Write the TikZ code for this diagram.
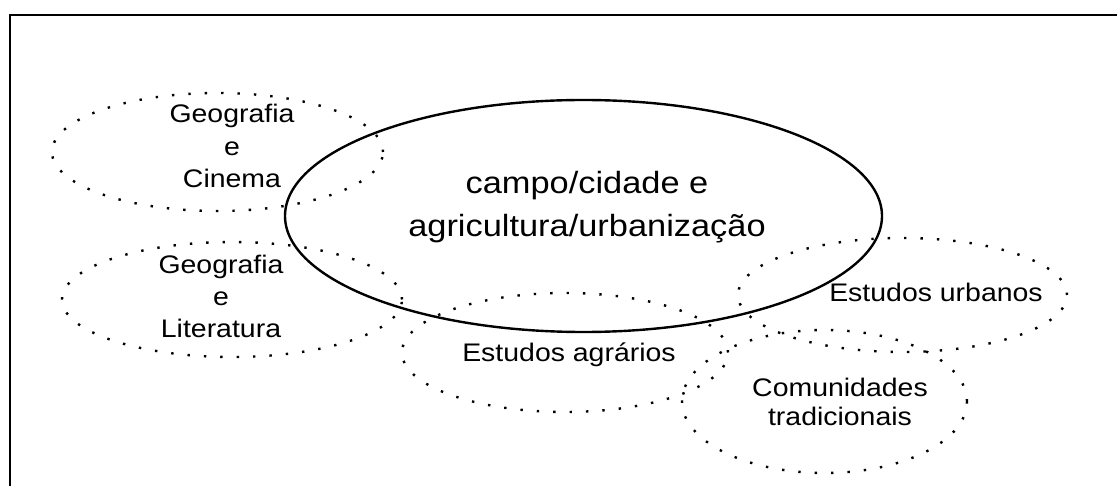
\documentclass[tikz,border=0pt]{standalone}
\usepackage{fontspec}
\setmainfont[FakeStretch=1.12]{Liberation Sans}
\usetikzlibrary{shapes.geometric}

\begin{document}
\begin{tikzpicture}
	[x=1pt, y=-1pt,
	theme/.style={draw, ellipse, inner sep=0pt, line width=2.4pt},
	area/.style={theme, line width=2.4pt, dash pattern=on 2.4pt off 14pt},
	tag/.style={align=center, anchor=base, inner sep=0pt, font=\fontsize{25.4}{32.5}\selectfont},
	bigtag/.style={tag, font=\fontsize{30.7}{43}\selectfont}]
	\useasboundingbox (0,0) rectangle (1117,486);
	\draw[line width=2.6pt] (10,490) |- (1120,15);

	\node[area, minimum width=331pt, minimum height=118pt] (cinema) at (217.5,152) {};
	\node[area, minimum width=340pt, minimum height=115pt] (literatura) at (232,299.5) {};
	\node[area, minimum width=326pt, minimum height=119pt] (agrarios) at (565,352.5) {};
	\node[area, minimum width=329pt, minimum height=114pt] (urbanos) at (902.5,295) {};
	\node[area, minimum width=285pt, minimum height=143pt] (comunidades) at (824.5,401.5) {};
	\node[theme, minimum width=597pt, minimum height=232pt] (campo) at (583.5,216) {};

	% base anchor sits on the last line
	\node[bigtag] (campotxt) at (587,237) {campo/cidade e\\agricultura/urbanização};
	\node[tag] (cinematxt) at (232,188) {Geografia\\e\\Cinema};
	\node[tag] (literaturatxt) at (221,338) {Geografia\\e\\Literatura};
	\node[tag] (agrariostxt) at (569,362) {Estudos agrários};
	\node[tag] (urbanostxt) at (936,302) {Estudos urbanos};
	\node[tag, font=\fontsize{25.4}{28.3}\selectfont] (comunidadestxt) at (840,425) {Comunidades\\tradicionais};
\end{tikzpicture}
\end{document}
